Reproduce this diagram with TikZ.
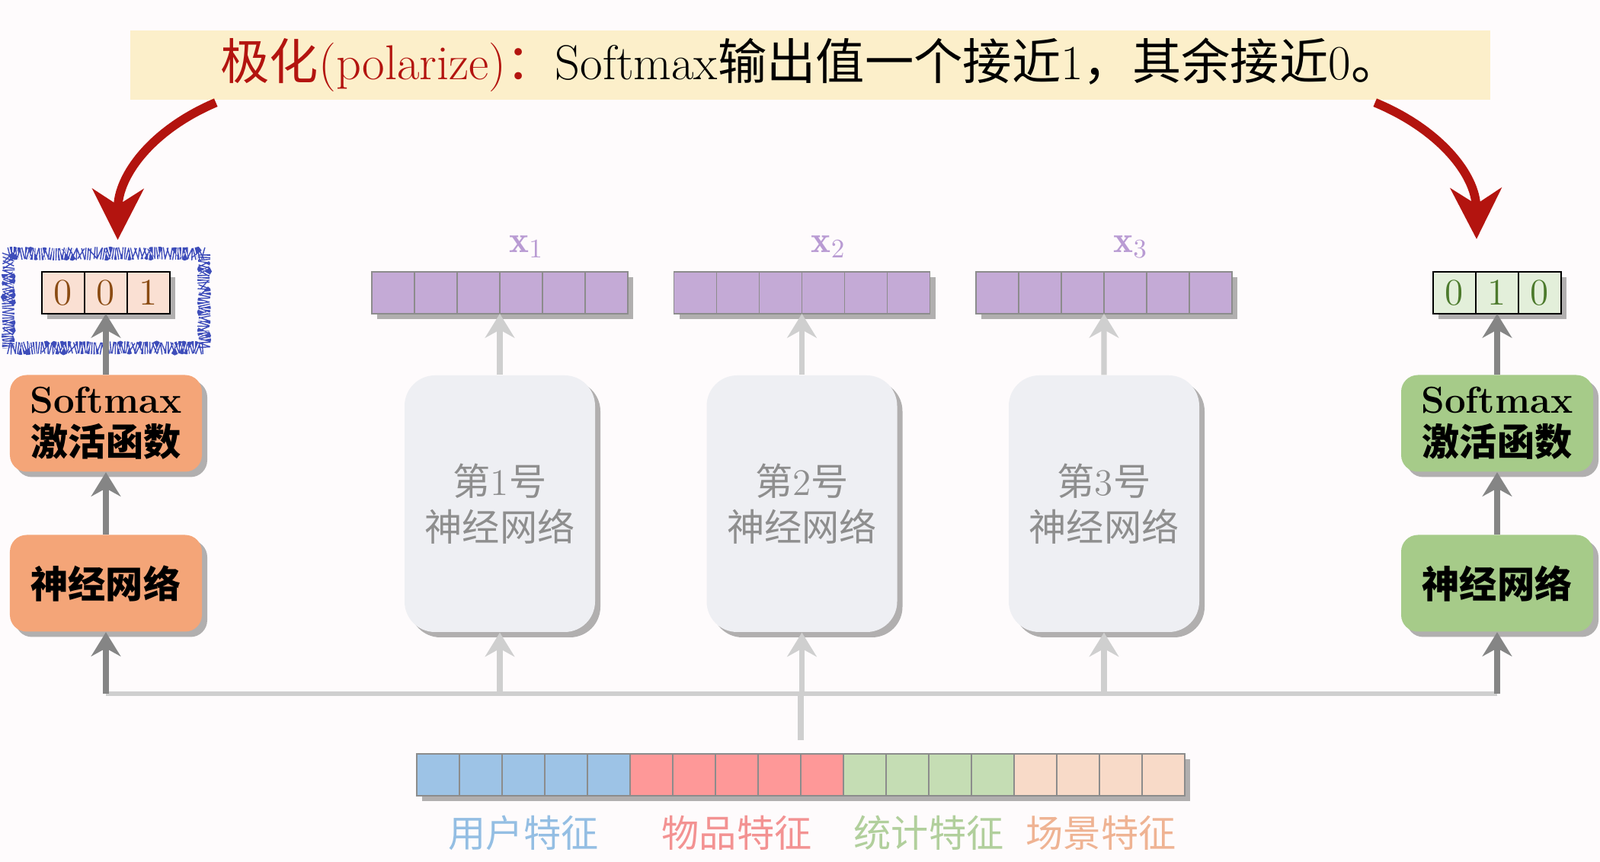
\documentclass[tikz,border=0pt]{standalone}
\usepackage{fontspec}
\usepackage{amsmath}
\usetikzlibrary{arrows.meta,shadows,decorations.pathmorphing}
\newfontfamily\cjk{Noto Sans CJK SC}

\definecolor{bgc}{HTML}{FEFBFC}
\definecolor{bannerc}{HTML}{FCEFCA}
\definecolor{redc}{HTML}{B3140F}
\definecolor{orangec}{HTML}{F4A578}
\definecolor{lpinkc}{HTML}{FAE0D3}
\definecolor{brownc}{HTML}{8A4B12}
\definecolor{greenc}{HTML}{A6CB89}
\definecolor{lgreenc}{HTML}{E3EFDA}
\definecolor{dgreenc}{HTML}{4C7A2C}
\definecolor{gboxc}{HTML}{EEEFF3}
\definecolor{gtext}{HTML}{8E8E8E}
\definecolor{purplec}{HTML}{C4AAD6}
\definecolor{purplet}{HTML}{B99BD3}
\definecolor{cellg}{HTML}{8C8C8C}
\definecolor{darkg}{HTML}{858585}
\definecolor{lightg}{HTML}{CFCFCF}
\definecolor{hlblue}{HTML}{3E4DBA}
\definecolor{fblue}{HTML}{9DC3E6}
\definecolor{fred}{HTML}{FE9898}
\definecolor{fgreen}{HTML}{C5DDB4}
\definecolor{fpeach}{HTML}{F8DAC8}
\definecolor{tblue}{HTML}{94BEE3}
\definecolor{tred}{HTML}{F39292}
\definecolor{tgreen}{HTML}{B1CF9C}
\definecolor{tpeach}{HTML}{EFB393}

\begin{document}
\begin{tikzpicture}[
    sh/.style={drop shadow={shadow xshift=0.07cm, shadow yshift=-0.07cm, opacity=0.3, fill=black}},
    nnbox/.style={sh, rounded corners=0.22cm, minimum width=2.52cm, minimum height=1.27cm,
        align=center, inner sep=0pt, font=\fontsize{14}{16}\selectfont\bfseries},
    gbox/.style={sh, fill=gboxc, rounded corners=0.4cm, minimum width=2.5cm, minimum height=3.37cm,
        align=center, text=gtext, font=\fontsize{14}{17}\selectfont},
    vcell/.style={sh, minimum width=0.56cm, minimum height=0.55cm, inner sep=0pt, outer sep=0pt,
        font=\fontsize{14}{16}\selectfont},
    darr/.style={draw=darkg, line width=2.2pt, -{Stealth[length=9pt,width=11pt,inset=3pt]}},
    larr/.style={draw=lightg, line width=2pt, -{Stealth[length=9pt,width=11pt,inset=3pt]}},
    redarr/.style={draw=redc, line width=3.3pt, -{Stealth[length=19pt,width=19pt,inset=6pt]}},
    hlbox/.style={draw=hlblue, line width=4.5pt, dash pattern=on 0.4pt off 0.5pt,
        decorate, decoration={random steps, segment length=0.8pt, amplitude=0.3pt},
        minimum width=2.57cm, minimum height=1.24cm},
    lbl/.style={font=\cjk\fontsize{14}{16}\selectfont}]
\useasboundingbox[fill=bgc] (0,0) rectangle (21,-11.32);

% title
\node[fill=bannerc, minimum width=17.85cm, minimum height=0.91cm, inner sep=0pt,
    font=\fontsize{18.3}{21}\selectfont] (banner) at (10.635,-0.855)
    {\textcolor{redc}{{\cjk 极化}(polarize){\cjk ：}}Softmax{\cjk 输出值一个接近}1{\cjk ，其余接近}0{\cjk 。}};

% left column
\node[hlbox] (hl) at (1.395,-3.95) {};
\foreach \v [count=\i] in {0,0,1}
    \node[vcell, draw=black, fill=lpinkc, text=brownc] (l\i) at ({1.39+(\i-2)*0.56},-3.845) {\v};
\node[nnbox, fill=orangec] (lsm) at (1.39,-5.56) {Softmax\\{\cjk\bfseries 激活函数}};
\node[nnbox, fill=orangec] (lnn) at (1.39,-7.66) {{\cjk\bfseries 神经网络}};

% right column
\foreach \v [count=\i] in {0,1,0}
    \node[vcell, draw=black, fill=lgreenc, text=dgreenc] (r\i) at ({19.65+(\i-2)*0.56},-3.845) {\v};
\node[nnbox, fill=greenc] (rsm) at (19.65,-5.56) {Softmax\\{\cjk\bfseries 激活函数}};
\node[nnbox, fill=greenc] (rnn) at (19.65,-7.66) {{\cjk\bfseries 神经网络}};

\coordinate (bl) at (1.39,-9.11);
\coordinate (br) at (19.65,-9.11);
\draw[lightg, line width=1.5pt] (bl) -- (br);

% three experts
\foreach \i/\xc in {1/6.56,2/10.525,3/14.49} {
    \node[gbox] (nn\i) at (\xc,-6.615) {{\cjk 第}\i{\cjk 号}\\{\cjk 神经网络}};
    \foreach \j in {1,...,6}
        \node[vcell, draw=cellg, fill=purplec] (x\i-\j) at ({\xc+(\j-3.5)*0.56},-3.845) {};
    \node[text=purplet, font=\fontsize{14}{16}\selectfont] (lx\i) at (\xc+0.35,-3.24) {$\mathbf{x}_{\i}$};
    \draw[larr] (nn\i.north) -- (x\i-3.south east);
    \draw[larr] (nn\i |- bl) -- (nn\i.south);
}

% features
\foreach \c [count=\j] in {fblue,fblue,fblue,fblue,fblue,fred,fred,fred,fred,fred,
        fgreen,fgreen,fgreen,fgreen,fpeach,fpeach,fpeach,fpeach}
    \node[vcell, draw=cellg, fill=\c] (f\j) at ({5.75+(\j-1)*0.56},-10.175) {};
\node[lbl, text=tblue] (t1) at (6.87,-10.94) {用户特征};
\node[lbl, text=tred] (t2) at (9.67,-10.94) {物品特征};
\node[lbl, text=tgreen] (t3) at (12.19,-10.94) {统计特征};
\node[lbl, text=tpeach] (t4) at (14.45,-10.94) {场景特征};
\draw[lightg, line width=2pt, shorten <=0.18cm] (f9.north east) -- (f9.north east |- bl);

% arrows
\draw[darr] (bl) -- (lnn);
\draw[darr] (lnn) -- (lsm);
\draw[darr] (lsm) -- (l2);
\draw[darr] (br) -- (rnn);
\draw[darr] (rnn) -- (rsm);
\draw[darr] (rsm) -- (r2);

\draw[redarr] ([xshift=1.13cm,yshift=-0.03cm]banner.south west)
    .. controls (2.0,-1.7) and (1.55,-2.3) .. ([xshift=0.15cm,yshift=0.1cm]hl.north);
\draw[redarr] ([xshift=-1.52cm,yshift=-0.03cm]banner.south east)
    .. controls (18.9,-1.7) and (19.37,-2.3) .. ([xshift=-0.27cm,yshift=0.43cm]r2.north);
\end{tikzpicture}
\end{document}
